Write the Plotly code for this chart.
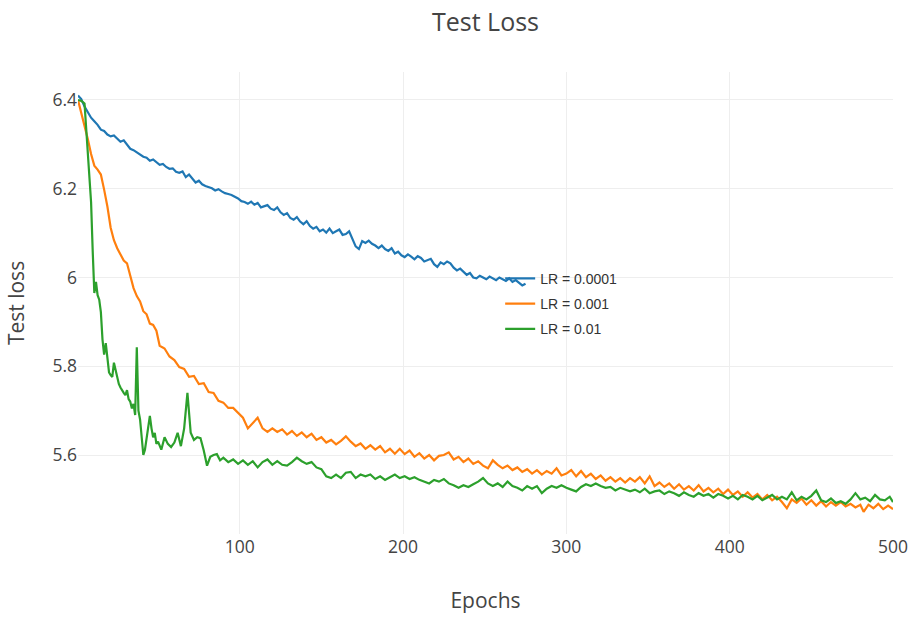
import plotly.graph_objects as go

# LR = 0.0001 (every second epoch)
blue_x = list(range(1, 276, 2))
blue_y = [6.410, 6.402, 6.385, 6.372, 6.360, 6.352, 6.344, 6.333, 6.330, 6.322,
          6.318, 6.320, 6.312, 6.306, 6.309, 6.298, 6.290, 6.287, 6.282, 6.275,
          6.272, 6.270, 6.263, 6.266, 6.259, 6.254, 6.256, 6.249, 6.245, 6.246,
          6.238, 6.236, 6.239, 6.226, 6.232, 6.224, 6.214, 6.218, 6.210, 6.206,
          6.204, 6.201, 6.196, 6.199, 6.194, 6.190, 6.188, 6.186, 6.182, 6.178,
          6.172, 6.170, 6.166, 6.171, 6.164, 6.168, 6.158, 6.160, 6.163, 6.155,
          6.152, 6.158, 6.147, 6.141, 6.145, 6.134, 6.130, 6.136, 6.126, 6.120,
          6.127, 6.116, 6.110, 6.114, 6.104, 6.108, 6.101, 6.110, 6.100, 6.104,
          6.108, 6.096, 6.098, 6.104, 6.088, 6.070, 6.064, 6.082, 6.078, 6.083,
          6.076, 6.072, 6.066, 6.072, 6.064, 6.060, 6.066, 6.054, 6.058, 6.050,
          6.046, 6.052, 6.047, 6.041, 6.048, 6.044, 6.036, 6.039, 6.042, 6.030,
          6.024, 6.034, 6.030, 6.036, 6.032, 6.022, 6.016, 6.020, 6.012, 6.006,
          6.010, 6.000, 5.998, 6.004, 6.000, 5.996, 6.002, 5.998, 5.994, 6.000,
          5.996, 5.992, 5.998, 5.990, 5.994, 5.988, 5.982, 5.986]

# LR = 0.001
orange_x = [1, 3, 5, 7, 9, 11, 13, 15, 17, 19, 21, 23, 25, 27, 29, 31, 33, 35, 37, 39, 41, 43, 45, 47, 49,
            51, 54, 57, 60, 63, 66, 69, 72, 75, 78, 81, 84, 87, 90, 93, 96, 99, 102, 105, 108, 111, 114, 117, 120,
            123, 126, 129, 132, 135, 138, 141, 144, 147, 150, 153, 156, 159, 162, 165, 168, 171, 174, 177, 180,
            183, 186, 189, 192, 195, 198, 201, 204, 207, 210, 213, 216, 219, 222, 225, 228, 231, 234, 237, 240,
            243, 246, 249, 252, 255, 258, 261, 264, 267, 270, 273, 276, 279, 282, 285, 288, 291, 294, 297, 300,
            303, 306, 309, 312, 315, 318, 321, 324, 327, 330, 333, 336, 339, 342, 345, 348, 351, 354, 357, 360,
            363, 366, 369, 372, 375, 378, 381, 384, 387, 390, 393, 396, 399, 402, 405, 408, 411, 414, 417, 420,
            423, 426, 429, 432, 435, 438, 441, 444, 447, 450, 453, 456, 459, 462, 465, 468, 471, 474, 477, 480,
            482, 485, 488, 491, 494, 497, 500]
orange_y = [6.400, 6.372, 6.345, 6.312, 6.278, 6.252, 6.243, 6.232, 6.198, 6.160, 6.112, 6.084, 6.066, 6.050, 6.038, 6.032, 6.004, 5.976, 5.958, 5.946, 5.924, 5.917, 5.896, 5.893, 5.880,
            5.846, 5.840, 5.822, 5.814, 5.798, 5.794, 5.776, 5.778, 5.760, 5.762, 5.742, 5.740, 5.722, 5.718, 5.706, 5.706, 5.694, 5.684, 5.660, 5.672, 5.684, 5.660, 5.652, 5.660,
            5.652, 5.658, 5.646, 5.654, 5.643, 5.651, 5.640, 5.648, 5.634, 5.640, 5.628, 5.634, 5.624, 5.632, 5.642, 5.630, 5.620, 5.626, 5.614, 5.622,
            5.612, 5.620, 5.606, 5.614, 5.603, 5.614, 5.602, 5.610, 5.596, 5.604, 5.592, 5.600, 5.588, 5.598, 5.600, 5.606, 5.590, 5.596, 5.584, 5.592,
            5.580, 5.586, 5.576, 5.570, 5.588, 5.578, 5.570, 5.576, 5.566, 5.572, 5.562, 5.568, 5.558, 5.566, 5.556, 5.564, 5.558, 5.570, 5.554, 5.558,
            5.566, 5.552, 5.564, 5.550, 5.558, 5.546, 5.554, 5.542, 5.550, 5.540, 5.548, 5.538, 5.548, 5.540, 5.550, 5.536, 5.552, 5.530, 5.538, 5.528,
            5.536, 5.524, 5.534, 5.522, 5.530, 5.520, 5.532, 5.518, 5.526, 5.516, 5.524, 5.512, 5.522, 5.510, 5.518, 5.506, 5.516, 5.504, 5.512, 5.500,
            5.510, 5.498, 5.506, 5.494, 5.480, 5.500, 5.492, 5.502, 5.488, 5.498, 5.486, 5.496, 5.484, 5.494, 5.486, 5.494, 5.484, 5.490, 5.482, 5.488,
            5.472, 5.488, 5.480, 5.490, 5.478, 5.486, 5.478]

# LR = 0.01
green_x = [1, 3, 5, 7, 9, 10, 11, 12, 13, 14, 15, 16, 17, 18, 19, 20, 21, 22, 23, 24, 25, 26, 27, 28, 29, 30,
           31, 32, 33, 34, 35, 36, 37, 38, 39, 40, 41, 42, 43, 44, 45, 46, 47, 48, 49, 50, 52, 54, 56, 58, 60,
           62, 64, 66, 68, 70, 72, 74, 76, 78, 80, 82, 84, 86, 88, 90, 93, 96, 99, 102, 105, 108, 111, 114, 117,
           120, 123, 126, 129, 132, 135, 138, 141, 144, 147, 150, 153, 156, 159, 162, 165, 168, 171, 174, 177, 180,
           183, 186, 189, 192, 195, 198, 201, 204, 207, 210, 213, 216, 219, 222, 225, 228, 231, 234, 237, 240,
           243, 246, 249, 252, 255, 258, 261, 264, 267, 270, 273, 276, 279, 282, 285, 288, 291, 294, 297, 300,
           303, 306, 309, 312, 315, 318, 321, 324, 327, 330, 333, 336, 339, 342, 345, 348, 351, 354, 357, 360,
           363, 366, 369, 372, 375, 378, 381, 384, 387, 390, 393, 396, 399, 402, 405, 408, 411, 414, 417, 420,
           423, 426, 429, 432, 435, 438, 441, 444, 447, 450, 453, 456, 459, 462, 465, 468, 471, 474, 477, 480,
           483, 486, 489, 492, 495, 498, 500]
green_y = [6.400, 6.398, 6.392, 6.290, 6.170, 6.060, 5.965, 5.990, 5.960, 5.950, 5.922, 5.860, 5.826, 5.852, 5.812, 5.786, 5.780, 5.776, 5.808, 5.790, 5.770, 5.760, 5.752, 5.744, 5.740, 5.735,
           5.746, 5.726, 5.720, 5.705, 5.715, 5.690, 5.843, 5.700, 5.680, 5.640, 5.600, 5.612, 5.640, 5.655, 5.688, 5.660, 5.640, 5.650, 5.625, 5.630, 5.612, 5.640, 5.625, 5.618, 5.628,
           5.650, 5.620, 5.660, 5.740, 5.650, 5.634, 5.640, 5.638, 5.610, 5.576, 5.596, 5.600, 5.602, 5.588, 5.594, 5.584, 5.590, 5.580, 5.588, 5.578, 5.586, 5.572, 5.584, 5.590,
           5.578, 5.586, 5.578, 5.576, 5.584, 5.594, 5.586, 5.580, 5.584, 5.572, 5.568, 5.552, 5.548, 5.556, 5.548, 5.560, 5.562, 5.548, 5.556, 5.552, 5.556,
           5.546, 5.552, 5.544, 5.550, 5.556, 5.548, 5.552, 5.546, 5.550, 5.544, 5.540, 5.536, 5.544, 5.540, 5.546, 5.536, 5.532, 5.526, 5.532, 5.528,
           5.534, 5.540, 5.548, 5.536, 5.530, 5.536, 5.528, 5.540, 5.530, 5.526, 5.520, 5.530, 5.524, 5.530, 5.514, 5.524, 5.530, 5.526, 5.532, 5.526,
           5.522, 5.518, 5.528, 5.534, 5.530, 5.536, 5.530, 5.526, 5.528, 5.520, 5.526, 5.522, 5.518, 5.522, 5.516, 5.524, 5.514, 5.518, 5.520, 5.512,
           5.518, 5.514, 5.508, 5.516, 5.510, 5.506, 5.514, 5.508, 5.512, 5.504, 5.512, 5.508, 5.502, 5.508, 5.500, 5.510, 5.506, 5.500, 5.508, 5.498,
           5.504, 5.510, 5.500, 5.506, 5.500, 5.516, 5.498, 5.506, 5.500, 5.508, 5.520, 5.498, 5.494, 5.502, 5.492, 5.496, 5.490, 5.500, 5.514, 5.500,
           5.504, 5.496, 5.510, 5.500, 5.498, 5.506, 5.494]

series_names = ["LR = 0.0001", "LR = 0.001", "LR = 0.01"]
colors = ["#1f77b4", "#ff7f0e", "#2ca02c"]

fig = go.Figure()
for name, xs, ys, c in zip(series_names, [blue_x, orange_x, green_x], [blue_y, orange_y, green_y], colors):
    fig.add_trace(go.Scatter(x=xs, y=ys, mode="lines", name=name, legendgroup=name,
                             line=dict(color=c, width=2.2)))

# white legend backing drawn between gridlines and traces
fig.add_shape(type="rect", xref="paper", yref="paper",
              x0=0.489, x1=0.70, y0=0.393, y1=0.603,
              fillcolor="white", line=dict(width=0), layer="between")

fig.update_layout(
    width=914, height=618,
    paper_bgcolor="white", plot_bgcolor="white",
    font=dict(family="Open Sans", color="#444"),
    title=dict(text="Test Loss", x=0.5, xref="paper", y=0.964, yref="container",
               yanchor="middle", font=dict(size=25, color="#444")),
    margin=dict(l=78, r=21, t=72, b=84),
    xaxis=dict(title=dict(text="Epochs", font=dict(size=21), standoff=36),
               range=[1, 500], dtick=100, tick0=0, automargin=False,
               showgrid=True, gridcolor="#eeeeee", zeroline=False, showline=False,
               tickfont=dict(size=17.5)),
    yaxis=dict(title=dict(text="Test loss", font=dict(size=21), standoff=22),
               range=[5.422, 6.463], tickvals=[5.6, 5.8, 6.0, 6.2, 6.4],
               ticktext=["5.6", "5.8", "6", "6.2", "6.4"], automargin=False,
               showgrid=True, gridcolor="#eeeeee", zeroline=False, showline=False,
               tickfont=dict(size=17.5)),
    legend=dict(x=0.518, y=0.587, xanchor="left", yanchor="top",
                bgcolor="rgba(0,0,0,0)", font=dict(size=14, family="Arial", color="#333"),
                traceorder="grouped", tracegroupgap=4),
)

fig.write_html("out.html")
